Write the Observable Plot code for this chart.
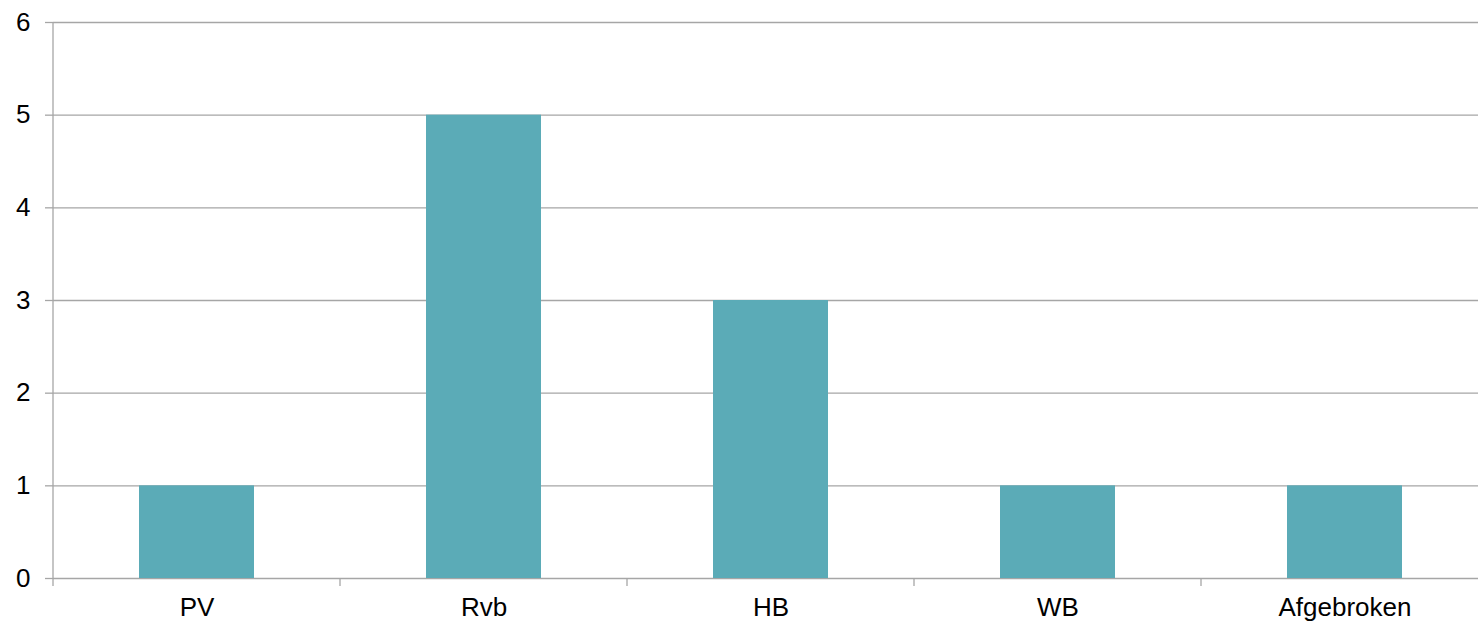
<!DOCTYPE html>
<html>
<head>
<meta charset="utf-8">
<script src="https://cdn.jsdelivr.net/npm/d3@7"></script>
<script src="https://cdn.jsdelivr.net/npm/@observablehq/plot@0.6"></script>
<style>
  html, body { margin: 0; padding: 0; background: #fff; }
  #chart svg { display: block; overflow: visible; }
  #chart svg text { font-size: 26px; font-family: 'Liberation Sans', Arial, sans-serif; fill: #000; }
</style>
</head>
<body>
<div id="chart"></div>
<script>
const categories = ["PV", "Rvb", "HB", "WB", "Afgebroken"];
const values = [1, 5, 3, 1, 1];
const yTicks = [0, 1, 2, 3, 4, 5, 6];

const data = categories.map((c, i) => ({category: c, value: values[i]}));
const gridColor = "#a6a6a6";

const plot = Plot.plot({
  width: 1478,
  height: 624,
  marginLeft: 53,
  marginRight: 0,
  marginTop: 22,
  marginBottom: 46,
  style: {fontFamily: "'Liberation Sans', Arial, sans-serif", fontSize: "26px", color: "#000", background: "#fff"},
  x: {domain: categories, range: [53, 1488], paddingInner: 0.6, paddingOuter: 0.3, label: null},
  y: {domain: [0, 6], label: null},
  marks: [
    Plot.gridY(yTicks, {stroke: gridColor, strokeOpacity: 1, strokeWidth: 1.3}),
    Plot.axisY(yTicks, {tickSize: 8, tickPadding: 15, tickFormat: d3.format("d"), stroke: gridColor, strokeWidth: 1.3, label: null}),
    Plot.barY(data, {x: "category", y: "value", fill: "#5babb7"}),
    Plot.axisX({tickSize: 0, tickPadding: 19, label: null})
  ]
});
document.getElementById("chart").appendChild(plot);

// axis line and category-boundary ticks derived from scales
const xs = plot.scale("x");
const ys = plot.scale("y");
const svg = d3.select(plot);
const x0 = xs.range[0];
const yTop = ys.apply(6);
const yBase = ys.apply(0);
const g = svg.append("g").attr("stroke", gridColor).attr("stroke-width", 1.3);
g.append("line").attr("x1", x0).attr("x2", x0).attr("y1", yTop).attr("y2", yBase + 8);
categories.forEach((c, i) => {
  const bx = x0 + (i + 1) * xs.step;
  g.append("line").attr("x1", bx).attr("x2", bx).attr("y1", yBase).attr("y2", yBase + 8);
});
</script>
</body>
</html>
